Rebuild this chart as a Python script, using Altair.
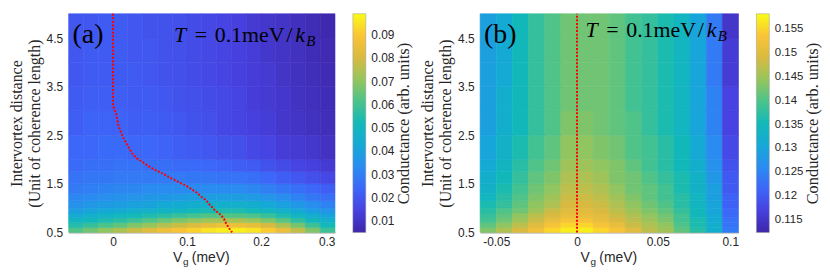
import altair as alt
import pandas as pd

# ---------------- data ----------------
y_edges = [0.5, 0.6, 0.7, 0.8, 0.9, 1.0, 1.15, 1.3, 1.5, 1.75, 2.0, 2.5, 3.0, 3.5, 4.0, 4.5, 5.0]

a_x_edges = [-0.06, -0.04, -0.02, 0.0, 0.02, 0.04, 0.06, 0.08, 0.10, 0.12, 0.14,
             0.16, 0.18, 0.20, 0.22, 0.24, 0.26, 0.28, 0.30]
b_x_edges = [-0.06, -0.05, -0.04, -0.03, -0.02, -0.01, 0.0, 0.01, 0.02, 0.03, 0.04,
             0.05, 0.06, 0.07, 0.08, 0.09, 0.10]

# conductance, rows from bottom (y=0.5) to top (y=5)
cond_a = [
    [0.062, 0.066, 0.070, 0.074, 0.078, 0.082, 0.086, 0.089, 0.092, 0.095, 0.097, 0.097, 0.095, 0.091, 0.085, 0.077, 0.068, 0.059],
    [0.055, 0.058, 0.061, 0.064, 0.068, 0.071, 0.075, 0.078, 0.081, 0.084, 0.086, 0.086, 0.084, 0.080, 0.074, 0.067, 0.059, 0.052],
    [0.049, 0.051, 0.054, 0.056, 0.059, 0.062, 0.065, 0.068, 0.070, 0.072, 0.073, 0.073, 0.071, 0.068, 0.063, 0.057, 0.051, 0.046],
    [0.044, 0.046, 0.048, 0.050, 0.052, 0.054, 0.056, 0.058, 0.060, 0.062, 0.062, 0.062, 0.061, 0.058, 0.054, 0.049, 0.045, 0.041],
    [0.039, 0.041, 0.043, 0.044, 0.046, 0.047, 0.049, 0.050, 0.052, 0.053, 0.054, 0.054, 0.052, 0.050, 0.047, 0.043, 0.039, 0.036],
    [0.035, 0.037, 0.038, 0.039, 0.040, 0.041, 0.043, 0.044, 0.045, 0.046, 0.046, 0.046, 0.045, 0.043, 0.040, 0.037, 0.034, 0.031],
    [0.032, 0.033, 0.034, 0.035, 0.036, 0.037, 0.037, 0.038, 0.039, 0.039, 0.039, 0.039, 0.038, 0.036, 0.034, 0.031, 0.028, 0.026],
    [0.029, 0.030, 0.031, 0.032, 0.032, 0.033, 0.033, 0.033, 0.033, 0.033, 0.033, 0.033, 0.032, 0.030, 0.028, 0.026, 0.024, 0.022],
    [0.027, 0.028, 0.028, 0.029, 0.029, 0.029, 0.029, 0.029, 0.028, 0.028, 0.027, 0.027, 0.026, 0.024, 0.022, 0.020, 0.018, 0.016],
    [0.025, 0.026, 0.026, 0.027, 0.027, 0.026, 0.026, 0.025, 0.025, 0.024, 0.023, 0.022, 0.021, 0.019, 0.017, 0.015, 0.014, 0.012],
    [0.024, 0.024, 0.025, 0.025, 0.024, 0.024, 0.023, 0.022, 0.021, 0.020, 0.019, 0.018, 0.016, 0.015, 0.013, 0.012, 0.011, 0.0095],
    [0.022, 0.023, 0.023, 0.023, 0.022, 0.022, 0.021, 0.020, 0.019, 0.018, 0.016, 0.015, 0.014, 0.013, 0.011, 0.010, 0.009, 0.008],
    [0.021, 0.022, 0.022, 0.022, 0.021, 0.021, 0.020, 0.019, 0.018, 0.017, 0.016, 0.015, 0.013, 0.012, 0.011, 0.0095, 0.0085, 0.0075],
    [0.020, 0.021, 0.021, 0.021, 0.021, 0.020, 0.019, 0.018, 0.017, 0.016, 0.015, 0.014, 0.013, 0.012, 0.010, 0.009, 0.008, 0.007],
    [0.020, 0.021, 0.021, 0.021, 0.020, 0.020, 0.019, 0.018, 0.017, 0.016, 0.015, 0.014, 0.013, 0.011, 0.010, 0.009, 0.0075, 0.0065],
    [0.020, 0.020, 0.021, 0.021, 0.020, 0.019, 0.019, 0.018, 0.017, 0.016, 0.015, 0.014, 0.012, 0.011, 0.010, 0.0085, 0.0072, 0.006],
]

cond_b = [
    [0.143, 0.146, 0.149, 0.152, 0.155, 0.157, 0.157, 0.155, 0.153, 0.150, 0.147, 0.145, 0.141, 0.137, 0.132, 0.124],
    [0.141, 0.144, 0.147, 0.150, 0.153, 0.155, 0.155, 0.153, 0.151, 0.148, 0.146, 0.144, 0.140, 0.136, 0.132, 0.123],
    [0.139, 0.142, 0.145, 0.148, 0.151, 0.153, 0.153, 0.151, 0.149, 0.147, 0.145, 0.143, 0.139, 0.136, 0.131, 0.123],
    [0.138, 0.141, 0.144, 0.147, 0.149, 0.151, 0.151, 0.150, 0.148, 0.146, 0.144, 0.142, 0.139, 0.135, 0.131, 0.122],
    [0.137, 0.140, 0.142, 0.145, 0.148, 0.150, 0.150, 0.149, 0.147, 0.145, 0.143, 0.141, 0.138, 0.135, 0.130, 0.122],
    [0.136, 0.138, 0.141, 0.144, 0.146, 0.149, 0.149, 0.148, 0.146, 0.144, 0.142, 0.140, 0.137, 0.134, 0.130, 0.121],
    [0.134, 0.137, 0.140, 0.143, 0.145, 0.148, 0.148, 0.147, 0.145, 0.143, 0.141, 0.139, 0.137, 0.134, 0.129, 0.121],
    [0.133, 0.136, 0.139, 0.142, 0.144, 0.147, 0.147, 0.146, 0.144, 0.142, 0.141, 0.139, 0.136, 0.133, 0.129, 0.120],
    [0.132, 0.135, 0.138, 0.141, 0.143, 0.146, 0.146, 0.145, 0.143, 0.142, 0.140, 0.138, 0.136, 0.133, 0.128, 0.120],
    [0.131, 0.134, 0.137, 0.140, 0.142, 0.145, 0.145, 0.144, 0.143, 0.141, 0.139, 0.137, 0.135, 0.132, 0.127, 0.119],
    [0.130, 0.133, 0.136, 0.139, 0.141, 0.144, 0.144, 0.143, 0.142, 0.140, 0.139, 0.137, 0.135, 0.131, 0.126, 0.118],
    [0.129, 0.132, 0.135, 0.138, 0.140, 0.143, 0.143, 0.142, 0.141, 0.140, 0.138, 0.136, 0.134, 0.130, 0.125, 0.117],
    [0.129, 0.132, 0.135, 0.138, 0.140, 0.142, 0.142, 0.142, 0.141, 0.139, 0.138, 0.136, 0.134, 0.130, 0.125, 0.117],
    [0.129, 0.131, 0.135, 0.138, 0.140, 0.142, 0.142, 0.142, 0.141, 0.139, 0.138, 0.136, 0.134, 0.130, 0.124, 0.116],
    [0.129, 0.131, 0.135, 0.138, 0.140, 0.142, 0.142, 0.142, 0.141, 0.139, 0.138, 0.136, 0.134, 0.130, 0.124, 0.116],
    [0.129, 0.131, 0.135, 0.138, 0.140, 0.142, 0.142, 0.142, 0.141, 0.139, 0.138, 0.136, 0.134, 0.130, 0.124, 0.115],
]

# red dotted curves (peak position)
peak_a_x = [0.0, 0.0, 0.004, 0.007, 0.011, 0.014, 0.018, 0.022, 0.026, 0.030, 0.034, 0.040,
            0.046, 0.053, 0.059, 0.066, 0.073, 0.079, 0.086, 0.092, 0.099, 0.106, 0.112,
            0.119, 0.126, 0.132, 0.138, 0.145, 0.150, 0.153, 0.157, 0.161]
peak_a_y = [5.0, 3.10, 2.95, 2.72, 2.55, 2.44, 2.34, 2.22, 2.12, 2.06, 2.0, 1.95, 1.88,
            1.82, 1.77, 1.72, 1.66, 1.61, 1.56, 1.51, 1.46, 1.39, 1.33, 1.24, 1.16, 1.05,
            0.95, 0.87, 0.78, 0.68, 0.58, 0.50]
peak_b_x = [0.0, 0.0]
peak_b_y = [0.5, 5.0]

a_x_ticks = [0, 0.1, 0.2, 0.3]
b_x_ticks = [-0.05, 0, 0.05, 0.1]
y_ticks = [0.5, 1.5, 2.5, 3.5, 4.5]
a_cb_ticks = [0.01, 0.02, 0.03, 0.04, 0.05, 0.06, 0.07, 0.08, 0.09]
b_cb_ticks = [0.115, 0.12, 0.125, 0.13, 0.135, 0.14, 0.145, 0.15, 0.155]
a_cdomain = [0.0049, 0.0990]
b_cdomain = [0.1123, 0.1581]

PARULA = ["#3e26a8", "#4741e0", "#3d66f9", "#2a8cf0", "#15a9d6", "#12b9b8",
          "#4cc38a", "#96c55c", "#d9ba40", "#fbc436", "#f9fb15"]

SANS = "Liberation Sans"
SERIF = "Liberation Serif"
INK = "#262626"
LBL = "replace(format(datum.value, '~g'), '\u2212', '-')"


def grid_df(xe, ye, vals):
    rows = []
    for j in range(len(ye) - 1):
        for i in range(len(xe) - 1):
            rows.append({"x0": xe[i], "x1": xe[i + 1], "y0": ye[j], "y1": ye[j + 1], "v": vals[j][i]})
    return pd.DataFrame(rows)


def one(text):
    return alt.Chart(pd.DataFrame({"t": [text]}))


def txt(text, x, y, size, font=SERIF, style="normal", color="black"):
    return one(text).mark_text(text=text, font=font, fontSize=size, fontStyle=style,
                               align="left", baseline="alphabetic", color=color).encode(
        x=alt.value(x), y=alt.value(y))


def panel(xe, vals, xdom, xticks, cdom, px, py, letter, tb, w):
    df = grid_df(xe, y_edges, vals)
    xs = alt.Scale(domain=xdom, nice=False, zero=False)
    ys = alt.Scale(domain=[0.5, 5.0], nice=False, zero=False)
    cs = alt.Scale(domain=cdom, range=PARULA, interpolate="rgb")
    heat = alt.Chart(df).mark_rect(strokeWidth=0.6).encode(
        x=alt.X("x0:Q", scale=xs, axis=alt.Axis(
            values=xticks, title=None, grid=False, ticks=False, labelPadding=4,
            labelFont=SANS, labelFontSize=12, labelColor=INK, labelExpr=LBL,
            domainColor="#8c8c8c", domainWidth=1)),
        x2="x1:Q",
        y=alt.Y("y0:Q", scale=ys, axis=alt.Axis(
            values=y_ticks, title=["Intervortex distance", "(Unit of coherence length)"],
            titleFont=SERIF, titleFontSize=16, titleFontWeight="normal", titleColor=INK,
            titleLineHeight=18, titlePadding=4,
            grid=False, ticks=False, domain=False, labelPadding=6,
            labelFont=SANS, labelFontSize=12, labelColor=INK, labelExpr=LBL)),
        y2="y1:Q",
        color=alt.Color("v:Q", scale=cs, legend=None),
        stroke=alt.Stroke("v:Q", scale=cs, legend=None),
    )
    line = alt.Chart(pd.DataFrame({"px": px, "py": py, "i": list(range(len(px)))})).mark_line(
        color="#ff0000", strokeWidth=2, strokeDash=[2, 1.6]).encode(
        x=alt.X("px:Q", scale=xs), y=alt.Y("py:Q", scale=ys), order="i:Q")

    cx = w / 2 - 29
    texts = [
        txt(letter, 4, 29, 28),
        txt("T", 106, tb, 22, style="italic"),
        txt("=", 127, tb, 22),
        txt("0.1meV", 147, tb, 22),
        txt("/", 219, tb, 22),
        txt("k", 228, tb, 22, style="italic"),
        txt("B", 239, tb + 4, 15, style="italic"),
        txt("V", cx, 250, 14, font=SANS, color=INK),
        txt("g", cx + 10, 253, 10, font=SANS, color=INK),
        txt("(meV)", cx + 19, 250, 14, font=SANS, color=INK),
    ]
    return alt.layer(heat, line, *texts).properties(width=w, height=220)


def colorbar(cdom, cticks, lsize):
    n = len(PARULA) - 1
    grad = alt.LinearGradient(
        gradient="linear",
        stops=[alt.GradientStop(color=c, offset=k / n) for k, c in enumerate(PARULA)],
        x1=0, x2=0, y1=1, y2=0)
    df = pd.DataFrame({"lo": [cdom[0]], "hi": [cdom[1]]})
    return alt.Chart(df).mark_rect(color=grad, stroke="#9a9a9a", strokeWidth=0.5).encode(
        x=alt.value(0), x2=alt.value(13),
        y=alt.Y("lo:Q", scale=alt.Scale(domain=cdom, nice=False, zero=False), axis=alt.Axis(
            orient="right", values=cticks, labelExpr=LBL, ticks=False, domain=False, grid=False,
            labelPadding=5, labelFont=SANS, labelFontSize=lsize, labelColor=INK,
            title="Conductance (arb. units)", titleAngle=270, titleBaseline="top",
            titleFont=SERIF, titleFontSize=16.5, titleFontWeight="normal", titleColor=INK,
            titlePadding=2)),
        y2="hi:Q",
    ).properties(width=13, height=220)


pa = panel(a_x_edges, cond_a, [-0.06, 0.3], a_x_ticks, a_cdomain,
           peak_a_x, peak_a_y, "(a)", 28, 268)
pb = panel(b_x_edges, cond_b, [-0.06, 0.1], b_x_ticks, b_cdomain,
           peak_b_x, peak_b_y, "(b)", 23, 260)
ca = colorbar(a_cdomain, a_cb_ticks, 12)
cb = colorbar(b_cdomain, b_cb_ticks, 11.5)

left = alt.hconcat(pa, ca, spacing=16).resolve_scale(color="independent", stroke="independent", y="independent")
right = alt.hconcat(pb, cb, spacing=16).resolve_scale(color="independent", stroke="independent", y="independent")

chart = alt.hconcat(left, right, spacing=7).resolve_scale(
    color="independent", stroke="independent", x="independent", y="independent"
).properties(
    padding={"left": 0, "top": 1, "right": 0, "bottom": 0},
    background="white",
).configure_view(stroke=None)

chart.save("out.html", embed_options={"renderer": "svg", "actions": False})
